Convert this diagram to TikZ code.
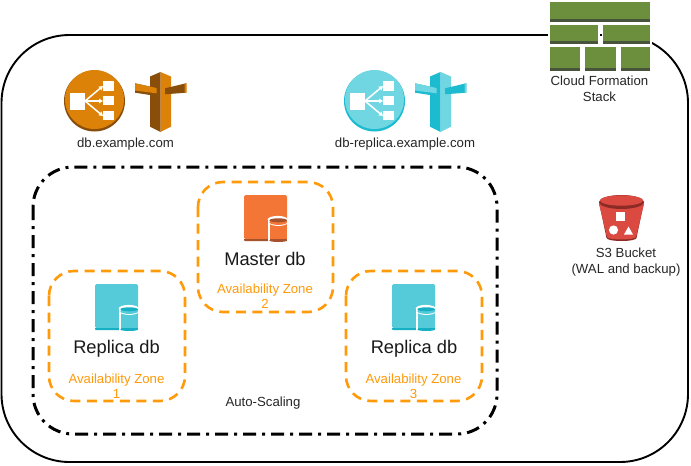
\documentclass[tikz,border=0pt]{standalone}
\usepackage{fontspec}
\setmainfont{Liberation Sans}
\usetikzlibrary{arrows.meta}
\definecolor{elbO}{HTML}{DD8209}
\definecolor{elbOd}{HTML}{8A4E0B}
\definecolor{elbB}{HTML}{70D7E2}
\definecolor{elbBd}{HTML}{1CBBD0}
\definecolor{azorange}{HTML}{FF9A0A}
\definecolor{masterO}{HTML}{F37636}
\definecolor{masterOd}{HTML}{A6522C}
\definecolor{repB}{HTML}{55CBDA}
\definecolor{repBd}{HTML}{17AFC4}
\definecolor{stackG}{HTML}{6C8F3E}
\definecolor{stackD}{HTML}{47533A}
\definecolor{s3R}{HTML}{DB4A40}
\definecolor{s3D}{HTML}{8C2B26}
\tikzset{
  x=1pt,y=-1pt,
  outerbox/.style={draw=black,line width=1.9pt,rounded corners=68pt},
  scalebox/.style={draw=black,line width=3pt,rounded corners=40pt,dash pattern=on 13pt off 6pt on 3pt off 6pt},
  azbox/.style={draw=azorange,line width=2.6pt,rounded corners=25pt,dash pattern=on 10pt off 6.5pt},
  smalltext/.style={font=\fontsize{13.2}{16}\selectfont,text=black!85,align=center,inner sep=0pt},
  dbtext/.style={font=\fontsize{18.3}{20}\selectfont,text=black!90,inner sep=0pt},
  aztext/.style={font=\fontsize{13.2}{15}\selectfont,text=azorange,align=center,inner sep=0pt},
  fan/.style={white,line width=1.5pt,-{Triangle[length=4pt,width=4.5pt]}},
}
\newcommand{\elbicon}[4]{% x y light dark
  \begin{scope}[shift={(#1,#2)}]
    \fill[#4] (0,0) circle (30.5);
    \fill[#3] (0,-1.5) circle (29.5);
    \fill[white] (-24.5,-8) rectangle (-9.5,9);
    \fill[white] (8.5,-20) rectangle (19.5,-10);
    \fill[white] (8.5,-5) rectangle (19.5,4);
    \fill[white] (8.5,10) rectangle (19.5,19);
    \draw[fan] (-9.5,0) -- (8.5,-15);
    \draw[fan] (-9.5,0) -- (8.5,0);
    \draw[fan] (-9.5,0) -- (8.5,15);
  \end{scope}}
\newcommand{\signicon}[4]{% x y light dark
  \begin{scope}[shift={(#1,#2)}]
    \fill[#4] (-10.5,-16.5) -- (0,-21) -- (0,39) -- (-10.5,33.7) -- cycle;
    \fill[#3] (0,-21) -- (10.5,-16.5) -- (10.5,33.7) -- (0,39) -- cycle;
    \fill[#4] (-25.5,-9.7) -- (-4,-5) -- (-4,3) -- (-25.5,-0.3) -- cycle;
    \fill[#3] (-25.5,-9.7) -- (-4,-5) -- (-4,0.3) -- (-25.5,-2.5) -- cycle;
    \fill[#4] (4.5,-4.7) -- (25.5,-9.7) -- (25.5,-0.3) -- (4.5,1.3) -- cycle;
    \fill[#3] (24,-9.4) -- (26,-9.8) -- (26,-0.3) -- (24,-0.1) -- cycle;
  \end{scope}}
\newcommand{\dbicon}[4]{% x y light dark (top-left of square)
  \begin{scope}[shift={(#1,#2)}]
    \fill[#3,rounded corners=1.5pt] (0,0) rectangle (43,44);
    \fill[#4] (0,44) -- (25,44) -- (25,46) -- (1,46) -- (0,45) -- cycle;
    \fill[white] (23.8,24.5) rectangle (43.7,47.5);
    \fill[white] (33.7,24.5) ellipse (10 and 3.6);
    \fill[#3] (25.5,25) rectangle (43,44.5);
    \fill[#4] (25.5,43.5) rectangle (43,45.5);
    \fill[#4] (34.2,45.5) ellipse (8.8 and 1.5);
    \fill[white] (34.2,28.3) ellipse (8.8 and 2.6);
    \fill[#3] (34.2,27.3) ellipse (8.8 and 2.6);
    \fill[#4] (34.2,25.3) ellipse (8.8 and 2);
  \end{scope}}
\newcommand{\brick}[4]{% x1 y1 x2 y2
  \fill[white] (#1-1.5,#2-1.5) rectangle (#3+1.5,#4+1.5);
  \fill[stackG] (#1,#2) rectangle (#3,#4);
  \fill[stackD] (#1,#4-3) rectangle (#3,#4);}
\begin{document}
\begin{tikzpicture}
\useasboundingbox (0,0) rectangle (691,466);
\fill[white] (0,0) rectangle (691,466);
\draw[outerbox] (1.5,35) rectangle (688,462);
\draw[scalebox] (33,167) rectangle (497,434);
\draw[azbox] (198,182) rectangle (333,312);
\draw[azbox] (49,271) rectangle (185,401);
\draw[azbox] (346,271) rectangle (482,401);
% stack
\brick{549.5}{2}{650}{22}
\brick{549.5}{25}{598}{44}
\brick{603}{25}{650}{44}
\brick{549.5}{47}{580}{71}
\brick{585}{47}{616}{71}
\brick{621}{47}{650}{71}
% route/elb
\elbicon{94.5}{101}{elbO}{elbOd}
\signicon{160.5}{93}{elbO}{elbOd}
\elbicon{374.5}{101}{elbB}{elbBd}
\signicon{440.5}{93}{elbB}{elbBd}
% db
\dbicon{244}{195}{masterO}{masterOd}
\dbicon{95}{284}{repB}{repBd}
\dbicon{392}{284}{repB}{repBd}
% s3
\fill[s3D] (599,202) -- (606.5,238) arc[start angle=180,end angle=0,x radius=15,y radius=3] -- (644,202) -- cycle;
\fill[s3R] (599,204) -- (607,237) arc[start angle=180,end angle=0,x radius=14.5,y radius=2.4] -- (644,204) -- cycle;
\fill[s3D] (621.5,202) ellipse (22.5 and 7);
\fill[s3R] (621.5,200.5) ellipse (21.5 and 5.2);
\fill[white] (616,212) rectangle (625,221);
\fill[white] (613.5,230) circle (4.6);
\fill[white] (624,234.5) -- (628.5,226.5) -- (633,234.5) -- cycle;
% text
\node[smalltext] (dbname) at (125.5,144) {db.example.com};
\node[smalltext] (replname) at (405,144) {db-replica.example.com};
\node[smalltext] (cfn) at (599.5,89) {Cloud Formation\\Stack};
\node[smalltext] (s3) at (626,262) {S3 Bucket\\(WAL and backup)};
\node[smalltext] (scaling) at (263,403) {Auto-Scaling};
\node[dbtext] (master) at (265,259) {Master db};
\node[dbtext] (rep1) at (116.5,349) {Replica db};
\node[dbtext] (rep3) at (414,349) {Replica db};
\node[aztext] (az2) at (265,296.5) {Availability Zone\\2};
\node[aztext] (az1) at (116.5,386.5) {Availability Zone\\1};
\node[aztext] (az3) at (413.5,386.5) {Availability Zone\\3};
\end{tikzpicture}
\end{document}
